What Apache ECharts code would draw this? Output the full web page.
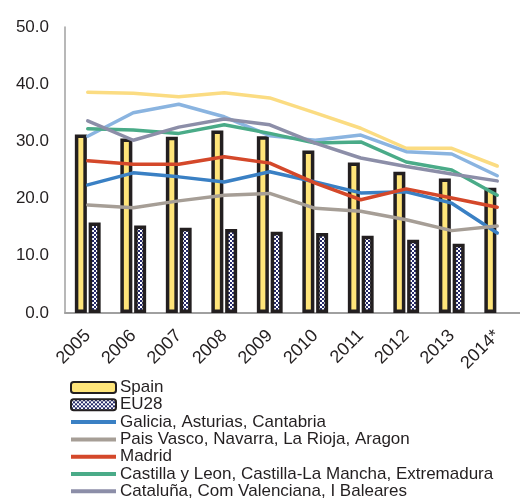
<!DOCTYPE html>
<html>
<head>
<meta charset="utf-8">
<script src="https://cdn.jsdelivr.net/npm/echarts@6/dist/echarts.min.js"></script>
<style>
html,body{margin:0;padding:0;background:#fff;}
#chart{width:520px;height:500px;}
</style>
</head>
<body>
<div id="chart"></div>
<script>
var years = ['2005','2006','2007','2008','2009','2010','2011','2012','2013','2014*'];
var spain = [31.2,30.5,30.8,31.9,30.9,28.4,26.3,24.7,23.5,21.9];
var eu28 = [15.8,15.3,14.9,14.7,14.2,14.0,13.5,12.8,12.1,null];
var galicia = [22.4,24.5,23.8,22.9,24.7,22.9,21.0,21.2,19.2,14.0];
var paisVasco = [18.9,18.4,19.6,20.6,20.9,18.3,17.8,16.3,14.4,15.2];
var madrid = [26.6,26.0,26.0,27.3,26.2,22.7,19.8,21.7,20.1,18.5];
var castilla = [32.2,32.0,31.4,32.9,31.4,29.7,29.9,26.4,25.0,20.6];
var cataluna = [33.6,30.2,32.5,33.9,32.9,29.7,27.1,25.6,24.3,23.1];
var otherYellow = [38.6,38.4,37.8,38.5,37.6,35.0,32.3,28.8,28.8,25.7];
var otherBlue = [30.9,35.0,36.5,34.3,31.0,30.2,31.1,28.2,27.8,24.0];

(function(){

var chart = echarts.init(document.getElementById('chart'));

// checker pattern for EU28 bars
var pat = document.createElement('canvas');
pat.width = 4; pat.height = 4;
var ctx = pat.getContext('2d');
ctx.fillStyle = '#ffffff';
ctx.fillRect(0,0,4,4);
ctx.fillStyle = '#262a6a';
ctx.fillRect(0,0,2,2);
ctx.fillRect(2,2,2,2);

var font = 'Liberation Sans, Arial, sans-serif';
var txt = '#231f20';
var lineIcon = 'path://M0,0 L45,0 L45,4 L0,4 Z';

function line(name, data, color){
    return {
        name: name,
        type: 'line',
        data: data,
        symbol: 'none',
        lineStyle: {width: 3.5, color: color, cap: 'round'},
        itemStyle: {color: color}
    };
}

var option = {
    animation: false,
    grid: {
        left: 65,
        right: 0,
        top: 27,
        bottom: 187
    },
    legend: {
        orient: 'vertical',
        left: 70,
        top: 379,
        padding: 0,
        itemWidth: 45,
        itemHeight: 11,
        itemGap: 0.3,
        data: [
            {name: 'Spain'},
            {name: 'EU28'},
            {name: 'Galicia, Asturias, Cantabria', icon: lineIcon},
            {name: 'Pais Vasco, Navarra, La Rioja, Aragon', icon: lineIcon},
            {name: 'Madrid', icon: lineIcon},
            {name: 'Castilla y Leon, Castilla-La Mancha, Extremadura', icon: lineIcon},
            {name: 'Cataluña, Com Valenciana, I Baleares', icon: lineIcon}
        ],
        textStyle: {fontFamily: font, fontSize: 17, color: txt, padding: [0,0,0,-1], lineHeight: 16}
    },
    xAxis: {
        type: 'category',
        data: years,
        axisLine: {lineStyle: {color: '#a0a0a0', width: 2}},
        axisTick: {show: false},
        axisLabel: {
            rotate: 45,
            interval: 0,
            margin: 20,
            fontFamily: font,
            fontSize: 18,
            color: txt
        }
    },
    yAxis: {
        type: 'value',
        min: 0,
        max: 50,
        interval: 10,
        axisLine: {show: true, lineStyle: {color: '#a0a0a0', width: 1.5}},
        axisTick: {show: false},
        splitLine: {show: false},
        axisLabel: {
            margin: 16,
            fontFamily: font,
            fontSize: 17,
            color: txt,
            formatter: function(v){ return v.toFixed(1); }
        }
    },
    series: [
        {
            name: 'Spain',
            type: 'bar',
            data: spain,
            barWidth: 12,
            barGap: '15%',
            itemStyle: {color: '#ffe57a', borderColor: '#231f20', borderWidth: 3.5}
        },
        {
            name: 'EU28',
            type: 'bar',
            data: eu28,
            barWidth: 12,
            barGap: '15%',
            itemStyle: {color: {image: pat, repeat: 'repeat'}, borderColor: '#231f20', borderWidth: 3.5}
        },
        line('Otros 1', otherYellow, '#fbdc82'),
        line('Otros 2', otherBlue, '#8ab4e0'),
        line('Galicia, Asturias, Cantabria', galicia, '#3a80c4'),
        line('Pais Vasco, Navarra, La Rioja, Aragon', paisVasco, '#a69e96'),
        line('Madrid', madrid, '#d4482a'),
        line('Castilla y Leon, Castilla-La Mancha, Extremadura', castilla, '#4aab88'),
        line('Cataluña, Com Valenciana, I Baleares', cataluna, '#8c8ea8')
    ]
};

chart.setOption(option);

})();
</script>
</body>
</html>
